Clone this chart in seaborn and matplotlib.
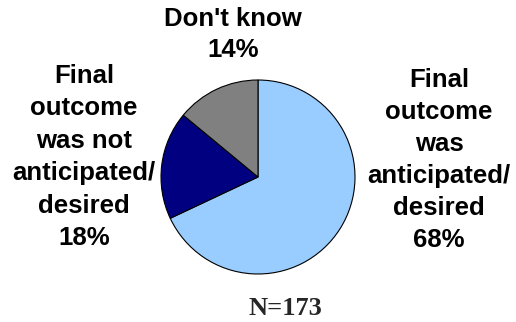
import matplotlib
matplotlib.use("Agg")
import matplotlib.pyplot as plt
import seaborn as sns

# Survey responses: was the final outcome anticipated/desired?
categories = [
    "Final\noutcome\nwas\nanticipated/\ndesired",
    "Final\noutcome\nwas not\nanticipated/\ndesired",
    "Don't know",
]
shares = [68, 18, 14]
colors = ["#99CCFF", "#000080", "#808080"]
sample_note = "N=173"

sns.set_theme(style="white")
plt.rcParams["font.family"] = ["Liberation Sans", "DejaVu Sans"]

fig = plt.figure(figsize=(5.16, 3.22), dpi=100)
ax = fig.add_axes([0, 0, 1, 1])

# Pie drawn clockwise from 12 o'clock; y axis is inverted, so flip direction
ax.pie(
    shares,
    colors=colors,
    startangle=-90,
    counterclock=True,
    center=(258, 177),
    radius=97,
    wedgeprops=dict(edgecolor="black", linewidth=0.8),
)
ax.set_xlim(0, 516)
ax.set_ylim(322, 0)
ax.set_aspect("equal")
ax.axis("off")


def stacked_label(x, first_baseline, step, label, share):
    """Write a centred label one line at a time, ending with the percentage."""
    lines = label.split("\n") + [f"{share}%"]
    for i, line in enumerate(lines):
        ax.text(x, first_baseline + i * step, line, ha="center", va="baseline",
                fontsize=18.5, fontweight="bold", color="black")


stacked_label(439, 87, 32.0, categories[0], shares[0])
stacked_label(84, 83, 32.4, categories[1], shares[1])
stacked_label(233, 26, 31.0, categories[2], shares[2])

ax.text(285, 315, sample_note, ha="center", va="baseline", fontsize=19,
        fontweight="bold", family=["Liberation Serif", "DejaVu Serif"])

fig.savefig("out.png", dpi=100, facecolor="white")
